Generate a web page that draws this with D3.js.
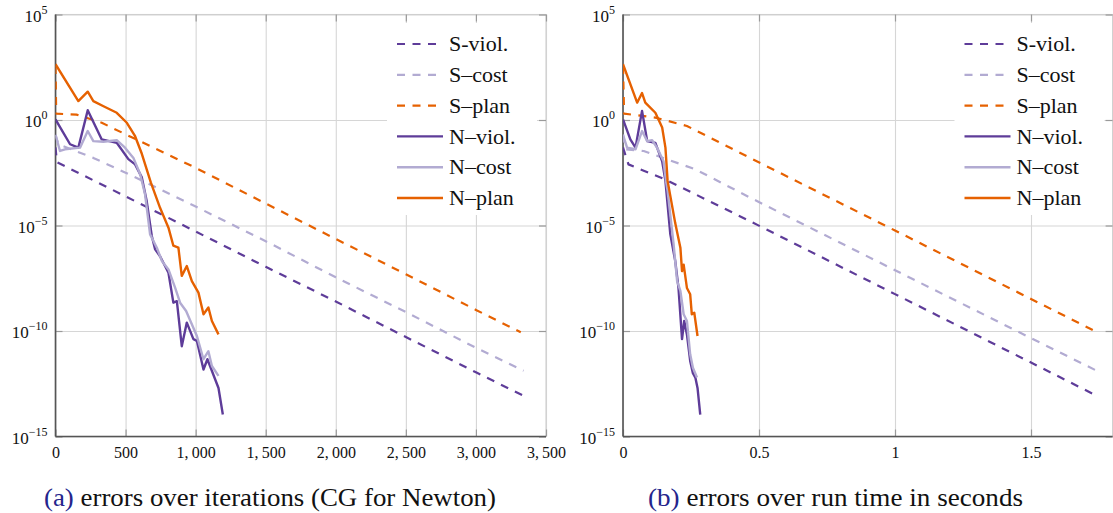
<!DOCTYPE html>
<html>
<head>
<meta charset="utf-8">
<script src="https://cdn.jsdelivr.net/npm/d3@7"></script>
<style>
  body { margin: 0; background: #fff; }
  svg { display: block; }
  svg text { font-family: "Liberation Serif", "DejaVu Serif", "Times New Roman", Times, "Noto Serif", "FreeSerif", serif; }
</style>
</head>
<body>
<svg id="chart" width="1113" height="513"></svg>
<script>
// tick values / labels
const yTickVals = [1e5, 1, 1e-5, 1e-10, 1e-15];
const yTickExp = ["5", "0", "\u22125", "\u221210", "\u221215"];
const iterTicks = [0, 500, 1000, 1500, 2000, 2500, 3000, 3500];
const timeTicks = [0, 0.5, 1, 1.5];
const seriesNames = ["S-viol.", "S\u2013cost", "S\u2013plan", "N\u2013viol.", "N\u2013cost", "N\u2013plan"];

// (a) errors over iterations: [iteration, error]
const iterSViol = [[0, 5.0e-2], [10, 1.0e-2], [500, 2.4e-4], [1000, 5.2e-6], [1500, 1.1e-7],
  [2000, 2.5e-9], [2500, 5.2e-11], [3000, 1.1e-12], [3340, 8.5e-14]];
const iterSCost = [[0, 2.0e-1], [20, 7.1e-2], [270, 1.6e-2], [500, 3.2e-3], [1000, 7.9e-5],
  [1500, 1.8e-6], [2000, 3.5e-8], [2500, 7.9e-10], [3000, 1.6e-11], [3340, 1.3e-12]];
const iterSPlan = [[0, 3.6e2], [5, 2.0], [150, 1.8], [330, 7.4e-1], [500, 2.1e-1], [1000, 5.4e-3],
  [1500, 1.1e-4], [2000, 2.3e-6], [2500, 4.9e-8], [3000, 1.0e-9], [3320, 8.7e-11]];
const iterNViol = [[0, 1.07], [104, 7.1e-2], [163, 4.9e-2], [230, 2.9], [330, 1.2e-1], [437, 8.3e-2],
  [520, 1.4e-2], [568, 7.9e-3], [616, 1.9e-3], [651, 1.4e-4], [687, 3.2e-6], [711, 7.4e-7],
  [746, 3.5e-7], [806, 5.8e-8], [841, 2.2e-9], [866, 2.6e-9], [901, 1.9e-11], [937, 2.5e-10],
  [984, 4.1e-11], [1009, 3.4e-11], [1056, 1.5e-12], [1084, 4.6e-12], [1163, 2.0e-13], [1194, 1.1e-14]];
const iterNCost = [[0, 2.0e-1], [32, 3.4e-2], [68, 4.1e-2], [175, 4.9e-2], [230, 3.0e-1], [270, 1.0e-1],
  [341, 9.3e-2], [437, 1.1e-1], [496, 4.9e-2], [556, 1.6e-2], [604, 2.7e-3], [639, 3.0e-4],
  [675, 3.8e-6], [723, 8.9e-7], [759, 2.1e-7], [806, 8.3e-8], [854, 1.1e-8], [889, 2.2e-9],
  [932, 8.9e-10], [1009, 5.8e-11], [1056, 4.6e-12], [1091, 1.1e-11], [1116, 2.2e-12], [1163, 7.4e-13]];
const iterNPlan = [[0, 4.4e2], [163, 7.9], [230, 2.2e1], [270, 7.9], [339, 4.6], [437, 2.2],
  [509, 7.4e-1], [568, 1.7e-1], [616, 2.5e-2], [680, 1.1e-3], [746, 6.9e-5], [806, 7.9e-6],
  [841, 1.1e-6], [877, 8.9e-7], [901, 4.1e-8], [937, 1.2e-7], [973, 2.3e-8], [1020, 6.6e-9],
  [1056, 6.2e-10], [1091, 1.3e-9], [1116, 3.0e-10], [1163, 6.9e-11]];

// (b) errors over run time: [seconds, error]
const timeSViol = [[0, 5.0e-2], [0.02, 7.9e-3], [0.156, 1.5e-3], [0.467, 1.6e-5], [1.0, 5.6e-9],
  [1.5, 3.2e-12], [1.731, 1.0e-13]];
const timeSCost = [[0, 2.0e-1], [0.009, 4.1e-2], [0.076, 3.4e-2], [0.266, 4.6e-3], [0.467, 2.1e-4],
  [1.0, 7.6e-8], [1.5, 4.6e-11], [1.742, 1.3e-12]];
const timeSPlan = [[0, 3.6e2], [0.004, 2.0], [0.119, 1.3], [0.235, 5.2e-1], [0.35, 9.3e-2],
  [0.467, 1.6e-2], [1.0, 5.8e-6], [1.5, 3.3e-9], [1.742, 8.9e-11]];
const timeNViol = [[0, 1.07], [0.027, 1.2e-1], [0.046, 4.9e-2], [0.070, 2.7], [0.089, 1.0e-1],
  [0.119, 8.3e-2], [0.144, 1.1e-2], [0.156, 1.3e-3], [0.174, 3.8e-6], [0.192, 2.1e-7],
  [0.204, 1.1e-8], [0.217, 4.1e-11], [0.225, 3.0e-10], [0.235, 6.9e-11], [0.247, 3.8e-12],
  [0.257, 1.0e-12], [0.266, 6.2e-13], [0.274, 2.0e-13], [0.284, 1.1e-14]];
const timeNCost = [[0, 2.0e-1], [0.015, 4.9e-2], [0.046, 4.1e-2], [0.070, 3.0e-1], [0.089, 1.0e-1],
  [0.107, 1.1e-1], [0.125, 4.9e-2], [0.149, 1.1e-2], [0.158, 1.3e-3], [0.164, 4.4e-4],
  [0.186, 1.3e-6], [0.199, 2.3e-8], [0.211, 7.9e-9], [0.223, 6.2e-10], [0.235, 3.0e-10],
  [0.247, 7.9e-12], [0.257, 1.8e-12], [0.272, 6.2e-13]];
const timeNPlan = [[0, 4.4e2], [0.052, 6.6], [0.070, 1.9e1], [0.082, 6.6], [0.119, 2.2],
  [0.144, 4.4e-1], [0.156, 4.9e-2], [0.164, 1.3e-3], [0.192, 1.3e-5], [0.211, 8.9e-7],
  [0.217, 6.9e-8], [0.223, 1.4e-7], [0.235, 1.1e-8], [0.247, 5.5e-9], [0.253, 6.2e-10],
  [0.262, 7.4e-10], [0.274, 5.8e-11]];

const colors = ["#5e3c99", "#b2abd2", "#e66101", "#5e3c99", "#b2abd2", "#e66101"];
const dashed = [true, true, true, false, false, false];

const svg = d3.select("#chart");
const plotTop = 14.5, plotBottom = 436.5;

let drawPanel = (opt) => {
  let g = svg.append("g");
  let x = d3.scaleLinear().domain(opt.xDomain).range([opt.left, opt.right]);
  let y = d3.scaleLog().domain([1e-15, 1e5]).range([plotBottom, plotTop]);
  let w = opt.right - opt.left;
  let h = plotBottom - plotTop;

  // grid
  g.append("g")
    .attr("transform", `translate(0,${plotBottom})`)
    .call(d3.axisBottom(x).tickValues(opt.xTicks).tickSize(-h).tickFormat(""))
    .call((a) => a.select(".domain").remove())
    .call((a) => a.selectAll("line").attr("stroke", "#d6d6d6").attr("stroke-width", 1.1));
  g.append("g")
    .attr("transform", `translate(${opt.left},0)`)
    .call(d3.axisLeft(y).tickValues(yTickVals).tickSize(-w).tickFormat(""))
    .call((a) => a.select(".domain").remove())
    .call((a) => a.selectAll("line").attr("stroke", "#d6d6d6").attr("stroke-width", 1.1));

  // frame
  g.append("rect")
    .attr("x", opt.left).attr("y", plotTop).attr("width", w).attr("height", h)
    .attr("fill", "none").attr("stroke", "#cfcfcf").attr("stroke-width", 1.1);

  // small tick stubs
  let stub = (a) => {
    a.select(".domain").remove();
    a.selectAll("line").attr("stroke", "#9a9a9a").attr("stroke-width", 1.2);
  };
  g.append("g").attr("transform", `translate(0,${plotBottom})`)
    .call(d3.axisBottom(x).tickValues(opt.xTicks).tickSize(-7).tickFormat("")).call(stub);
  g.append("g").attr("transform", `translate(0,${plotTop})`)
    .call(d3.axisTop(x).tickValues(opt.xTicks).tickSize(-7).tickFormat("")).call(stub);
  g.append("g").attr("transform", `translate(${opt.left},0)`)
    .call(d3.axisLeft(y).tickValues(yTickVals).tickSize(-7).tickFormat("")).call(stub);
  g.append("g").attr("transform", `translate(${opt.right},0)`)
    .call(d3.axisRight(y).tickValues(yTickVals).tickSize(-7).tickFormat("")).call(stub);

  // dark axis lines
  g.append("line").attr("x1", opt.left).attr("x2", opt.left).attr("y1", plotTop).attr("y2", plotBottom)
    .attr("stroke", "#555").attr("stroke-width", 1.6);
  g.append("line").attr("x1", opt.left).attr("x2", opt.right).attr("y1", plotBottom).attr("y2", plotBottom)
    .attr("stroke", "#555").attr("stroke-width", 1.6);

  // x tick labels
  g.append("g")
    .attr("transform", `translate(0,${plotBottom})`)
    .call(d3.axisBottom(x).tickValues(opt.xTicks).tickSize(0).tickPadding(10).tickFormat(opt.xFormat))
    .call((a) => a.select(".domain").remove())
    .call((a) => a.selectAll("text").attr("font-size", 16).attr("fill", "#111"));

  // y tick labels 10^k
  let yl = g.append("g")
    .attr("transform", `translate(${opt.left},0)`)
    .call(d3.axisLeft(y).tickValues(yTickVals).tickSize(0).tickFormat(""))
    .call((a) => a.select(".domain").remove());
  yl.selectAll(".tick").append("text")
    .attr("x", -8).attr("y", 6.5)
    .attr("text-anchor", "end")
    .attr("fill", "#111")
    .attr("font-size", 17)
    .each(function (d, i) {
      let t = d3.select(this);
      t.append("tspan").text("10");
      t.append("tspan").attr("dy", -8).attr("font-size", 12).text(yTickExp[i]);
    });

  // series
  let clipId = "clip" + opt.id;
  svg.append("clipPath").attr("id", clipId)
    .append("rect").attr("x", opt.left).attr("y", plotTop).attr("width", w).attr("height", h);
  let line = d3.line().x((d) => x(d[0])).y((d) => y(d[1]));
  let lines = g.append("g").attr("clip-path", `url(#${clipId})`);
  opt.series.forEach((s, i) => {
    lines.append("path")
      .datum(s)
      .attr("d", line)
      .attr("fill", "none")
      .attr("stroke", colors[i])
      .attr("stroke-width", dashed[i] ? 2.2 : 2.4)
      .attr("stroke-linejoin", "round")
      .attr("stroke-dasharray", dashed[i] ? "8,7.5" : null);
  });

  // legend
  let lg = g.append("g").attr("transform", `translate(${opt.left + 331.5},0)`);
  lg.append("rect").attr("x", 0).attr("y", 23).attr("width", 150).attr("height", 192).attr("fill", "#fff");
  seriesNames.forEach((name, i) => {
    let cy = 44 + i * 30.8;
    lg.append("line")
      .attr("x1", 10).attr("x2", 56).attr("y1", cy).attr("y2", cy)
      .attr("stroke", colors[i]).attr("stroke-width", dashed[i] ? 2.2 : 2.4)
      .attr("stroke-dasharray", dashed[i] ? "8,7.5" : null);
    lg.append("text")
      .attr("x", 62).attr("y", cy).attr("dy", "0.33em")
      .attr("font-size", 22).attr("fill", "#111")
      .text(name);
  });

  // caption
  let cap = svg.append("text")
    .attr("x", opt.capX).attr("y", 506)
    .attr("font-size", 26)
    .attr("textLength", opt.capW).attr("lengthAdjust", "spacingAndGlyphs")
    .attr("fill", "#111");
  cap.append("tspan").attr("fill", "#25258c").text(opt.capTag);
  cap.append("tspan").text(" " + opt.capText);
};

drawPanel({
  id: "a", left: 55.5, right: 546, xDomain: [0, 3500], xTicks: iterTicks,
  xFormat: (d) => d3.format(",")(d).replace(",", ",\u2009"),
  series: [iterSViol, iterSCost, iterSPlan, iterNViol, iterNCost, iterNPlan],
  capX: 44, capW: 452, capTag: "(a)", capText: "errors over iterations (CG for Newton)",
});

drawPanel({
  id: "b", left: 623, right: 1112.6, xDomain: [0, 1.8], xTicks: timeTicks,
  xFormat: (d) => String(d),
  series: [timeSViol, timeSCost, timeSPlan, timeNViol, timeNCost, timeNPlan],
  capX: 648, capW: 375, capTag: "(b)", capText: "errors over run time in seconds",
});
</script>
</body>
</html>
